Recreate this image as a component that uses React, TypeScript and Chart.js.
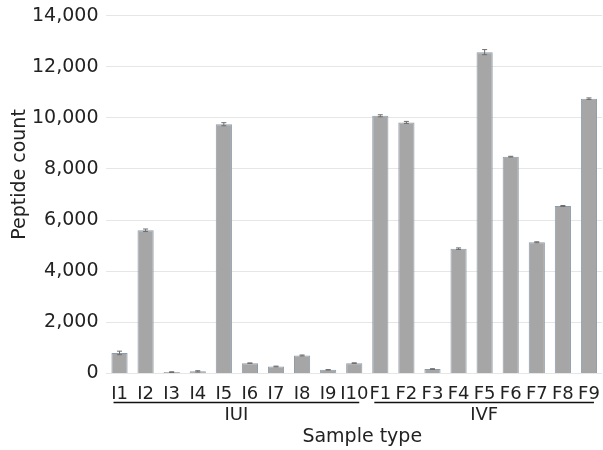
import React, { useEffect, useRef } from "react";
import { Chart, registerables } from "chart.js";

Chart.register(...registerables);

const categories = ["I1", "I2", "I3", "I4", "I5", "I6", "I7", "I8", "I9", "I10", "F1", "F2", "F3", "F4", "F5", "F6", "F7", "F8", "F9"];
const peptideCounts = [800, 5600, 50, 80, 9750, 400, 270, 700, 140, 400, 10080, 9820, 170, 4880, 12570, 8480, 5130, 6550, 10750];
const errors = [70, 50, 15, 25, 60, 10, 15, 20, 10, 15, 40, 40, 15, 30, 100, 15, 20, 20, 30];
const groupLabels = ["IUI", "IVF"];
const groupStarts = [0, 10];
const groupEnds = [9, 18];
const yTicks = [0, 2000, 4000, 6000, 8000, 10000, 12000, 14000];
const xTitle = "Sample type";
const yTitle = "Peptide count";

const FONT = "'DejaVu Sans', Verdana, sans-serif";

const errorBarPlugin = {
  id: "errorBars",
  afterDatasetsDraw(chart: any) {
    const ctx = chart.ctx;
    const meta = chart.getDatasetMeta(0);
    const y = chart.scales.y;
    ctx.save();
    ctx.strokeStyle = "#6e6e6e";
    ctx.lineWidth = 1;
    meta.data.forEach((bar: any, i: number) => {
      const v = peptideCounts[i];
      const e = errors[i];
      const yTop = y.getPixelForValue(v + e);
      const yBot = y.getPixelForValue(v - e);
      const x = bar.x;
      ctx.beginPath();
      ctx.moveTo(x, yTop);
      ctx.lineTo(x, yBot);
      ctx.moveTo(x - 2.5, yTop);
      ctx.lineTo(x + 2.5, yTop);
      ctx.moveTo(x - 2.5, yBot);
      ctx.lineTo(x + 2.5, yBot);
      ctx.stroke();
    });
    ctx.restore();
  },
};

const groupPlugin = {
  id: "groups",
  afterDraw(chart: any) {
    const ctx = chart.ctx;
    const xs = chart.scales.x;
    const area = chart.chartArea;
    const base = area.bottom;
    ctx.save();
    groupLabels.forEach((lab, g) => {
      const x1 = xs.getPixelForValue(groupStarts[g]) - 6;
      const x2 = xs.getPixelForValue(groupEnds[g]) + 5;
      ctx.strokeStyle = "#111";
      ctx.lineWidth = 1.5;
      ctx.beginPath();
      ctx.moveTo(x1, base + 29);
      ctx.lineTo(x2, base + 29);
      ctx.stroke();
      ctx.fillStyle = "#222";
      ctx.font = `18px ${FONT}`;
      ctx.textAlign = "center";
      ctx.textBaseline = "middle";
      ctx.fillText(lab, (x1 + x2) / 2, base + 42);
    });
    // axis titles
    ctx.fillStyle = "#222";
    ctx.font = `19px ${FONT}`;
    ctx.textAlign = "center";
    ctx.textBaseline = "middle";
    ctx.fillText(xTitle, (area.left + area.right) / 2 + 8, base + 64);
    ctx.translate(20, (area.top + area.bottom) / 2 - 20);
    ctx.rotate(-Math.PI / 2);
    ctx.fillText(yTitle, 0, 0);
    ctx.restore();
  },
};

export default function App() {
  const ref = useRef<HTMLCanvasElement | null>(null);
  useEffect(() => {
    if (!ref.current) return;
    const chart = new Chart(ref.current, {
      type: "bar",
      data: {
        labels: categories,
        datasets: [
          {
            data: peptideCounts,
            backgroundColor: "#a6a6a6",
            borderColor: "#8c9cab",
            borderWidth: 1,
            barPercentage: 0.62,
            categoryPercentage: 1,
          },
        ],
      },
      options: {
        animation: false,
        responsive: false,
        maintainAspectRatio: false,
        layout: { padding: { top: 0, right: 1, left: 24, bottom: 43 } },
        plugins: { legend: { display: false }, tooltip: { enabled: false } },
        scales: {
          x: {
            offset: true,
            grid: { display: false },
            border: { display: false },
            ticks: {
              autoSkip: false,
              maxRotation: 0,
              minRotation: 0,
              padding: 2,
              color: "#222",
              font: { family: FONT, size: 18 },
            },
          },
          y: {
            min: 0,
            max: 14000,
            afterBuildTicks: (axis: any) => {
              axis.ticks = yTicks.map((v) => ({ value: v }));
            },
            grid: { color: "#e6e6e6", lineWidth: 1, drawTicks: false },
            border: { display: false },
            ticks: {
              padding: 8,
              color: "#222",
              font: { family: FONT, size: 19, lineHeight: 0.8 },
              callback: (v: any) => Number(v).toLocaleString("en-US"),
            },
          },
        },
      },
      plugins: [errorBarPlugin, groupPlugin],
    });
    return () => chart.destroy();
  }, []);
  return (
    <div style={{ position: "absolute", left: 0, top: 0, width: 603, height: 450, background: "#fff" }}>
      <canvas ref={ref} width={603} height={450} style={{ width: 603, height: 450 }} />
    </div>
  );
}
